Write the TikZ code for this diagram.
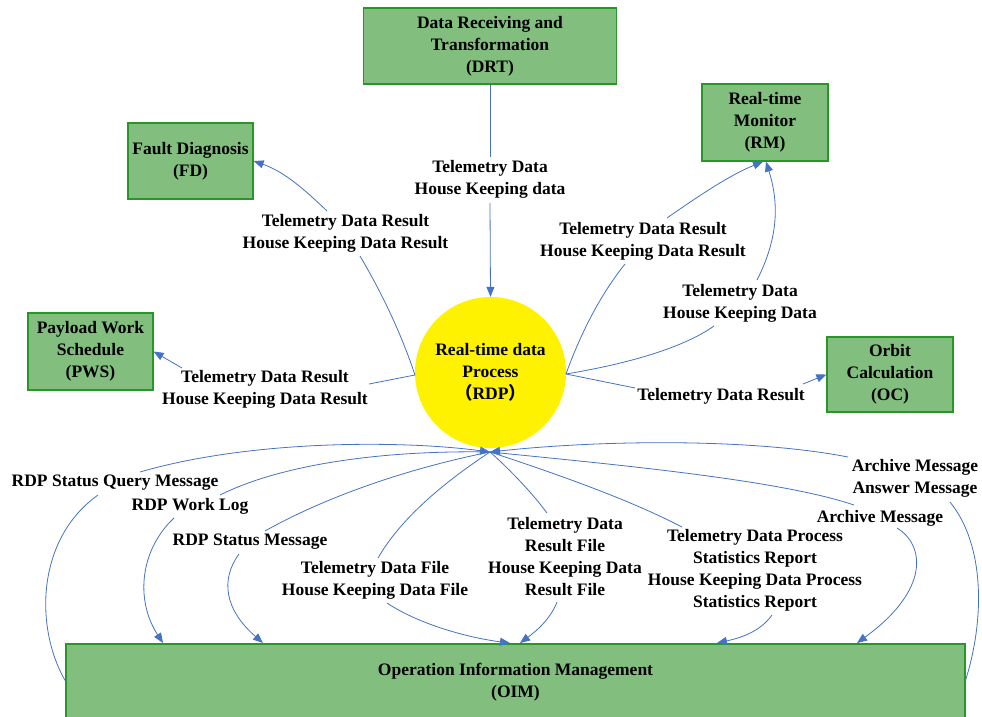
\documentclass[tikz,border=0pt]{standalone}
\usepackage{fontspec}
\setmainfont{Liberation Serif}
\newfontfamily\cjk{Noto Sans CJK SC}
\usetikzlibrary{arrows.meta}
\definecolor{boxfill}{RGB}{130,190,126}
\definecolor{boxline}{RGB}{40,150,40}
\definecolor{flow}{RGB}{68,114,196}
\begin{document}
\begin{tikzpicture}[x=1pt,y=-1pt,
  txt/.style={font=\bfseries\fontsize{17.5}{22}\selectfont, align=center, inner sep=0pt},
  box/.style={txt, draw=boxline, line width=1.2pt, fill=boxfill, minimum height=76pt},
  lbl/.style={txt},
  flowline/.style={draw=flow, line width=0.8pt},
  arr/.style={flowline, -{Triangle[length=10pt,width=8pt]}}]
\useasboundingbox (0,0) rectangle (982,717);

% boxes
\node[box, minimum width=253pt] (drt) at (490,46) {Data Receiving and\\Transformation\\(DRT)};
\node[box, minimum width=125pt] (fd) at (190.5,161) {Fault Diagnosis\\(FD)};
\node[box, minimum width=125pt, minimum height=77pt] (pws) at (90.5,351.5) {Payload Work\\Schedule\\(PWS)};
\node[box, minimum width=126pt, minimum height=77pt] (rm) at (765,122.5) {Real-time\\Monitor\\(RM)};
\node[box, minimum width=126pt, minimum height=75pt] (oc) at (890,374.5) {Orbit\\Calculation\\(OC)};
\node[box, minimum width=899pt, minimum height=76pt] (oim) at (515.5,682) {Operation Information Management\\(OIM)};
\node[txt, circle, fill=yellow, minimum size=151pt] (rdp) at (490.5,372.5) {Real-time data\\Process\\{\cjk （}RDP{\cjk ）}};

% labels
\node[lbl] (lDRT) at (490,179.5) {Telemetry Data\\House Keeping data};
\node[lbl] (lFD) at (345.5,233) {Telemetry Data Result\\House Keeping Data Result};
\node[lbl] (lPWS) at (265,389.5) {Telemetry Data Result\\House Keeping Data Result};
\node[lbl] (lRM1) at (643,241) {Telemetry Data Result\\House Keeping Data Result};
\node[lbl] (lRM2) at (740,303) {Telemetry Data\\House Keeping Data};
\node[lbl] (lOC) at (721,396) {Telemetry Data Result};
\node[lbl] (lQuery) at (115,483) {RDP Status Query Message};
\node[lbl] (lLog) at (190,506) {RDP Work Log};
\node[lbl] (lStat) at (250,542) {RDP Status Message};
\node[lbl] (lFile) at (375,580.5) {Telemetry Data File\\House Keeping Data File};
\node[lbl] (lRes) at (565,557) {Telemetry Data\\Result File\\House Keeping Data\\Result File};
\node[lbl] (lRep) at (755,570) {Telemetry Data Process\\Statistics Report\\House Keeping Data Process\\Statistics Report};
\node[lbl] (lArch) at (880,518) {Archive Message};
\node[lbl] (lAns) at (915,478.5) {Archive Message\\Answer Message};

% connection points
\coordinate (rW) at (415,375);
\coordinate (rE) at (566,374);
\coordinate (rS) at (490,452);
\coordinate (oimL) at (66,682);
\coordinate (oimR) at (965,682);
\coordinate (a1) at (490,157);   \coordinate (a2) at (490,203);
\coordinate (b1) at (360,256);   \coordinate (b2) at (327,211);
\coordinate (c1) at (369,384);   \coordinate (c2) at (182,368);
\coordinate (d1) at (625,264);   \coordinate (d2) at (667,218);
\coordinate (e1) at (714,326);   \coordinate (e2) at (757,280);
\coordinate (f1) at (635,388);   \coordinate (f2) at (803,384);
\coordinate (g1) at (98,495);    \coordinate (g2) at (140,472);
\coordinate (h1) at (220,495);   \coordinate (h2) at (174,518);
\coordinate (i1) at (265,531);   \coordinate (i2) at (239,554);
\coordinate (j1) at (378,558);   \coordinate (j2) at (387,603);
\coordinate (k1) at (547,513);   \coordinate (k2) at (557,602);
\coordinate (m1) at (682,527);   \coordinate (m2) at (772,615);
\coordinate (n1) at (854,505);   \coordinate (n2) at (897,528);
\coordinate (p1) at (950,502);   \coordinate (p2) at (848,457);

% DRT -> RDP
\draw[flowline] (drt.south) -- (a1);
\draw[arr] (a2) -- (rdp.north);
% RDP -> FD
\draw[flowline] (rW) .. controls (400,330) and (380,290) .. (b1);
\draw[arr] (b2) .. controls (305,190) and (285,172) .. (fd.east);
% RDP -> PWS
\draw[flowline] (rW) -- (c1);
\draw[arr] (c2) -- (pws.east);
% RDP -> RM (results)
\draw[flowline] (rE) .. controls (580,335) and (600,295) .. (d1);
\draw[arr] (d2) .. controls (700,195) and (730,175) .. ([xshift=-2pt]rm.south);
% RDP -> RM (data)
\draw[flowline] (rE) .. controls (620,365) and (680,350) .. (e1);
\draw[arr] (e2) .. controls (780,235) and (778,200) .. ([xshift=1pt]rm.south);
% RDP -> OC
\draw[flowline] (rE) -- (f1);
\draw[arr] (f2) -- (oc.west);
% OIM -> RDP (status query)
\draw[flowline] (oimL) .. controls (35,630) and (35,540) .. (g1);
\draw[arr] (g2) .. controls (250,440) and (400,440) .. (rS);
% RDP -> OIM (work log)
\draw[flowline] (rS) .. controls (380,450) and (280,465) .. (h1);
\draw[arr] (h2) .. controls (140,550) and (135,600) .. (163,643);
% RDP -> OIM (status message)
\draw[flowline] (rS) .. controls (400,470) and (320,500) .. (i1);
\draw[arr] (i2) .. controls (220,580) and (225,610) .. (263,643);
% RDP -> OIM (data files)
\draw[flowline] (rS) .. controls (440,485) and (400,520) .. (j1);
\draw[arr] (j2) .. controls (420,625) and (470,638) .. (510,643);
% RDP -> OIM (result files)
\draw[flowline] (rS) .. controls (505,465) and (530,490) .. (k1);
\draw[arr] (k2) .. controls (550,620) and (535,632) .. (520,643);
% RDP -> OIM (statistics report)
\draw[flowline] (rS) .. controls (560,475) and (630,500) .. (m1);
\draw[arr] (m2) .. controls (760,632) and (740,638) .. (717,643);
% RDP -> OIM (archive message)
\draw[flowline] (rS) .. controls (620,465) and (780,480) .. (n1);
\draw[arr] (n2) .. controls (925,545) and (930,590) .. (857,643);
% OIM -> RDP (archive / answer)
\draw[flowline] (oimR) .. controls (985,620) and (985,545) .. (p1);
\draw[arr] (p2) .. controls (750,438) and (600,440) .. (rS);
\end{tikzpicture}
\end{document}
